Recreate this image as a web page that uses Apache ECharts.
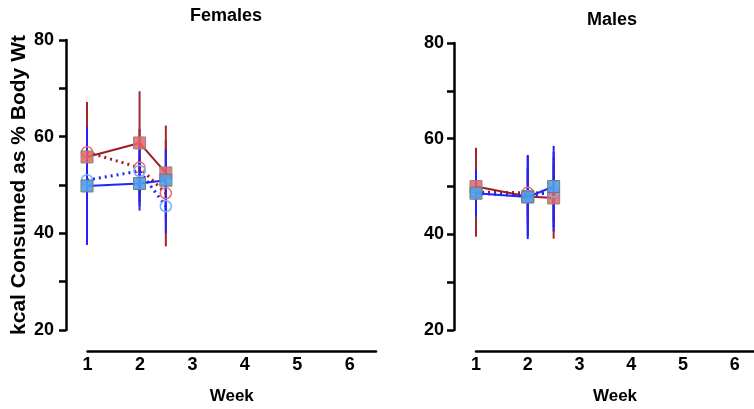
<!DOCTYPE html>
<html><head><meta charset="utf-8">
<script src="https://cdn.jsdelivr.net/npm/echarts@6/dist/echarts.min.js"></script>
<style>html,body{margin:0;padding:0;background:#fff}#c{width:754px;height:409px}</style>
</head><body><div id="c"></div>
<script>
const weeks = [1, 2, 2.5];
const xTicks = [1, 2, 3, 4, 5, 6];
const panelTitles = ['Females', 'Males'];
// Females
const fRedSq = [55.8, 58.7, 52.5];   const fRedSqSd = [11.4, 10.7, 9.8];
const fRedCi = [56.8, 53.6, 48.3];   const fRedCiSd = [8.0, 8.0, 11.0];
const fBlueSq = [49.8, 50.3, 51.0];  const fBlueSqSd = [12.2, 5.6, 6.4];
const fBlueCi = [51.0, 52.9, 45.6];  const fBlueCiSd = [8.0, 6.4, 5.6];
// Males
const mRedSq = [50.0, 47.9, 47.6];   const mRedSqSd = [7.6, 6.0, 8.5];
const mRedCi = [48.8, 48.7, 48.6];   const mRedCiSd = [9.3, 5.0, 6.0];
const mBlueSq = [48.6, 47.8, 50.0];  const mBlueSqSd = [4.5, 8.8, 8.5];
const mBlueCi = [48.6, 48.0, 48.9];  const mBlueCiSd = [4.9, 8.4, 8.3];

const FONT = 'Liberation Sans, Arial, Helvetica, sans-serif';
const RED_LINE = '#9e1b1f', BLUE_LINE = '#1f26ff';
const RED_ERR = '#a3262a', BLUE_ERR = '#2222ff';

function errSeries(ax, vals, sds, color, z) {
  return {
    type: 'custom', xAxisIndex: ax, yAxisIndex: ax, z: z, silent: true,
    data: weeks.map((w, i) => [w, vals[i], sds[i]]),
    encode: {x: 0, y: 1},
    renderItem: function (params, api) {
      const x = api.value(0), y = api.value(1), e = api.value(2);
      const a = api.coord([x, y + e]), b = api.coord([x, y - e]);
      return {type: 'line', shape: {x1: a[0], y1: a[1], x2: b[0], y2: b[1]},
              style: {stroke: color, lineWidth: 2}};
    }
  };
}
function lineSeries(ax, vals, opt) {
  return {
    type: 'line', xAxisIndex: ax, yAxisIndex: ax, z: opt.z, silent: true,
    data: weeks.map((w, i) => [w, vals[i]]),
    symbol: opt.symbol, symbolSize: opt.size, showSymbol: true,
    lineStyle: {color: opt.line, width: opt.lw, type: opt.type},
    itemStyle: opt.itemStyle, animation: false
  };
}
function panelSeries(ax, rs, rsd, rc, rcd, bs, bsd, bc, bcd) {
  return [
    errSeries(ax, rs, rsd, RED_ERR, 1),
    errSeries(ax, rc, rcd, RED_ERR, 1),
    errSeries(ax, bs, bsd, BLUE_ERR, 2),
    errSeries(ax, bc, bcd, BLUE_ERR, 2),
    lineSeries(ax, rc, {z: 3, symbol: 'circle', size: 11, line: RED_LINE, lw: 3, type: [2, 4],
      itemStyle: {color: 'rgba(255,255,255,0)', borderColor: '#f06a6a', borderWidth: 1.5}}),
    lineSeries(ax, rs, {z: 4, symbol: 'rect', size: 12, line: RED_LINE, lw: 2, type: 'solid',
      itemStyle: {color: 'rgba(232,100,100,0.85)', borderColor: '#888', borderWidth: 1}}),
    lineSeries(ax, bc, {z: 5, symbol: 'circle', size: 11, line: BLUE_LINE, lw: 3, type: [2, 4],
      itemStyle: {color: 'rgba(255,255,255,0)', borderColor: '#6fb2ff', borderWidth: 1.5}}),
    lineSeries(ax, bs, {z: 6, symbol: 'rect', size: 12, line: BLUE_LINE, lw: 2, type: 'solid',
      itemStyle: {color: 'rgba(80,160,235,0.9)', borderColor: '#777', borderWidth: 1}})
  ];
}
function yAx(gi, withName, margin) {
  const o = {
    type: 'value', gridIndex: gi, min: 20, max: 80, interval: 10,
    splitLine: {show: false},
    axisLine: {show: true, lineStyle: {color: '#000', width: 2.5}},
    axisTick: {show: true, length: 7, lineStyle: {color: '#000', width: 2.5}},
    axisLabel: {margin: margin, color: '#000', fontFamily: FONT, fontWeight: 'bold', fontSize: 18,
      formatter: v => (v % 20 === 0 ? String(v) : '')}
  };
  if (withName) {
    Object.assign(o, {name: 'kcal Consumed as % Body Wt', nameLocation: 'middle', nameGap: 34,
      nameRotate: 90, nameTextStyle: {color: '#000', fontFamily: FONT, fontWeight: 'bold', fontSize: 21}});
  }
  return o;
}
function hiddenY(gi) { return {type: 'value', gridIndex: gi, show: false, min: 0, max: 1}; }
function hiddenX(gi, mn, mx) { return {type: 'value', gridIndex: gi, show: false, min: mn, max: mx}; }
function weekAx(gi, mx) {
  return {
    type: 'value', gridIndex: gi, min: 1, max: mx, interval: 1,
    splitLine: {show: false},
    axisLine: {show: true, onZero: false, lineStyle: {color: '#000', width: 2.5}},
    axisTick: {show: false},
    axisLabel: {margin: 5, color: '#000', fontFamily: FONT, fontWeight: 'bold', fontSize: 18,
      showMaxLabel: false, formatter: v => (xTicks.indexOf(v) >= 0 ? String(v) : '')},
    name: 'Week', nameLocation: 'middle', nameGap: 37,
    nameTextStyle: {color: '#000', fontFamily: FONT, fontWeight: 'bold', fontSize: 17}
  };
}

const chart = echarts.init(document.getElementById('c'), null, {renderer: 'canvas'});
chart.setOption({
  animation: false,
  backgroundColor: '#fff',
  title: [
    {text: panelTitles[0], left: 221, top: 2, textAlign: 'center',
     textStyle: {fontFamily: FONT, fontWeight: 'bold', fontSize: 18, color: '#000'}},
    {text: panelTitles[1], left: 607, top: 6, textAlign: 'center',
     textStyle: {fontFamily: FONT, fontWeight: 'bold', fontSize: 18, color: '#000'}}
  ],
  grid: [
    {left: 66, top: 40, width: 310, height: 290},
    {left: 87.5, top: 330, width: 288.5, height: 21},
    {left: 454, top: 43, width: 300, height: 287},
    {left: 476, top: 330, width: 278, height: 21}
  ],
  xAxis: [hiddenX(0, 0.6, 6.5), weekAx(1, 6.5), hiddenX(2, 0.575, 6.37), weekAx(3, 6.37)],
  yAxis: [yAx(0, true, 12), hiddenY(1), yAx(2, false, 10), hiddenY(3)],
  series: [].concat(
    panelSeries(0, fRedSq, fRedSqSd, fRedCi, fRedCiSd, fBlueSq, fBlueSqSd, fBlueCi, fBlueCiSd),
    panelSeries(2, mRedSq, mRedSqSd, mRedCi, mRedCiSd, mBlueSq, mBlueSqSd, mBlueCi, mBlueCiSd)
  )
});
</script></body></html>
